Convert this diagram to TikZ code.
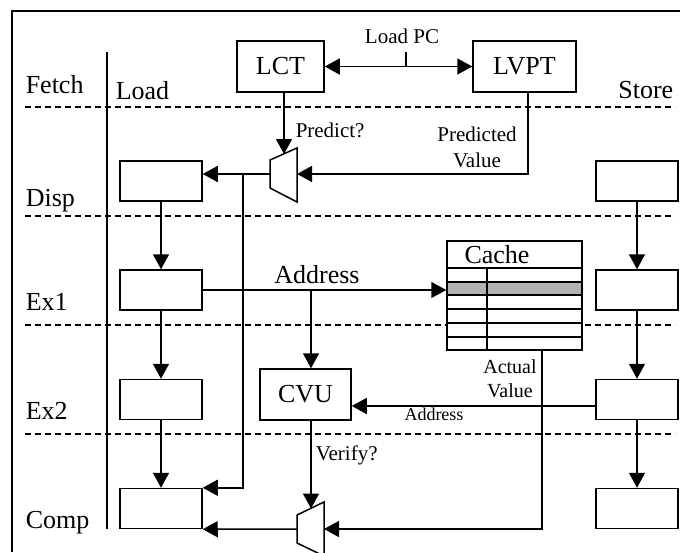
\documentclass[tikz,border=0pt]{standalone}
\usepackage{fontspec}
\setmainfont{Liberation Serif}
\usetikzlibrary{arrows.meta}

\newcommand{\bigtxt}{\fontsize{26}{28}\selectfont}
\newcommand{\midtxt}{\fontsize{21}{25}\selectfont}
\newcommand{\smalltxt}{\fontsize{18}{20}\selectfont}

\tikzset{
	stage/.style	= {draw, fill=white, minimum width=82pt, minimum height=40pt, inner sep=0pt},
	unit/.style		= {draw, fill=white, minimum height=51pt, inner sep=0pt, font=\bigtxt},
	lbl/.style		= {inner sep=0pt, font=\bigtxt},
	sig/.style		= {inner sep=0pt, font=\midtxt},
	stagesep/.style	= {dash pattern=on 6pt off 4pt}
}

\begin{document}
\begin{tikzpicture}[x=1pt, y=-1pt, > = {Triangle[length=15pt, width=16pt]}, line width=1.5pt]
\useasboundingbox (0,0) rectangle (680,552);

% frame
\draw (680,11) -- (12,11) -- (12,552);

% stage boundaries
\draw[stagesep] (25,107) -- (675,107);
\draw[stagesep] (25,216) -- (675,216);
\draw[stagesep] (25,325) -- (675,325);
\draw[stagesep] (25,434) -- (675,434);
\draw (107,52) -- (107,529);

% stage names
\node[lbl, anchor=base west]	(fetch)	at (25,93)		{Fetch};
\node[lbl, anchor=base west]	(disp)	at (25,206)		{Disp};
\node[lbl, anchor=base west]	(ex1)	at (25,310)		{Ex1};
\node[lbl, anchor=base west]	(ex2)	at (25,419)		{Ex2};
\node[lbl, anchor=base west]	(comp)	at (25,528)		{Comp};
\node[lbl, anchor=base west]	(load)	at (115,99)		{Load};
\node[lbl, anchor=base east]	(store)	at (674,98)		{Store};

% load pipe
\node[stage]	(ld)	at (161,181)	{};
\node[stage]	(le1)	at (161,290)	{};
\node[stage]	(le2)	at (161,399.5)	{};
\node[stage]	(lc)	at (161,508.5)	{};

% store pipe
\node[stage]	(sd)	at (637,181)	{};
\node[stage]	(se1)	at (637,290)	{};
\node[stage]	(se2)	at (637,399.5)	{};
\node[stage]	(sc)	at (637,508.5)	{};

% predictor tables
\node[unit, minimum width=87pt]		(lct)	at (280.5,66.5)	{LCT};
\node[unit, minimum width=103pt]	(lvpt)	at (524.5,66.5)	{LVPT};
\node[unit, minimum width=91pt]		(cvu)	at (305.5,394.5)	{CVU};

% cache
\node[draw, fill=white, minimum width=135pt, minimum height=109pt, inner sep=0pt] (cache) at (514.5,295.5) {};
\fill[black!30] (447,282) rectangle (582,295);
\foreach \y in {268,309,323,337}
	\draw (447,\y) -- (582,\y);
\draw (487,268) -- (487,350);
\draw[line width=2pt] (447,282) rectangle (582,295);
\node[lbl, anchor=base]	(ctitle)	at (497,263)	{Cache};

% muxes
\draw[fill=white] (270,160) -- (297,148) -- (297,202) -- (270,188) -- cycle;
\coordinate (m1in)	at (297,174);
\coordinate (m1out)	at (270,174);
\coordinate (m1sel)	at (284,154);
\draw[fill=white] (297,515) -- (324,502) -- (324,556) -- (297,543) -- cycle;
\coordinate (m2in)	at (324,529);
\coordinate (m2out)	at (297,529);
\coordinate (m2sel)	at (311,508.5);

\coordinate (pctap)	at (406,66.5);
\coordinate (j1)	at (243,174);
\coordinate (abr)	at (311,290);

% connectors
\draw[<->] (lct) -- (lvpt);
\draw (pctap) -- ++(0,-14.5);
\draw[->] (m1sel |- lct.south) -- (m1sel);
\draw[->] ([xshift=3.5pt]lvpt.south) |- (m1in);
\draw[->] (m1out) -- (m1out -| ld.east);
\draw[->] (j1) |- (lc.north east);

\draw[->] (ld) -- (le1);
\draw[->] (le1) -- (le2);
\draw[->] (le2) -- (lc);
\draw[->] (sd) -- (se1);
\draw[->] (se1) -- (se2);
\draw[->] (se2) -- (sc);

\draw[->] (le1.east) -- (le1.east -| cache.west);
\draw[->] (abr) -- (abr |- cvu.north);
\draw[->] ([yshift=-6.5pt]se2.west) -- ([yshift=-6.5pt]se2.west -| cvu.east);
\draw[->] (m2sel |- cvu.south) -- (m2sel);
\draw[->] ([xshift=27.5pt]cache.south) |- (m2in);
\draw[->] (m2out) -- (lc.south east);

% signal labels
\node[sig, anchor=base]			(pc)	at (402,43)		{Load PC};
\node[sig, anchor=base west]	(pred)	at (295,137)	{Predict?};
\node[sig, align=center, anchor=north, font=\fontsize{21}{26}\selectfont]	(pval)	at (477,126)	{Predicted\\Value};
\node[lbl, anchor=base]			(addr)	at (317,283)	{Address};
\node[sig, align=center, anchor=north, font=\fontsize{20}{24}\selectfont]	(aval)	at (510,359)	{Actual\\Value};
\node[inner sep=0pt, font=\smalltxt, anchor=base]	(saddr)	at (434,420)	{Address};
\node[sig, anchor=base west]	(ver)	at (315,460)	{Verify?};

\end{tikzpicture}
\end{document}
